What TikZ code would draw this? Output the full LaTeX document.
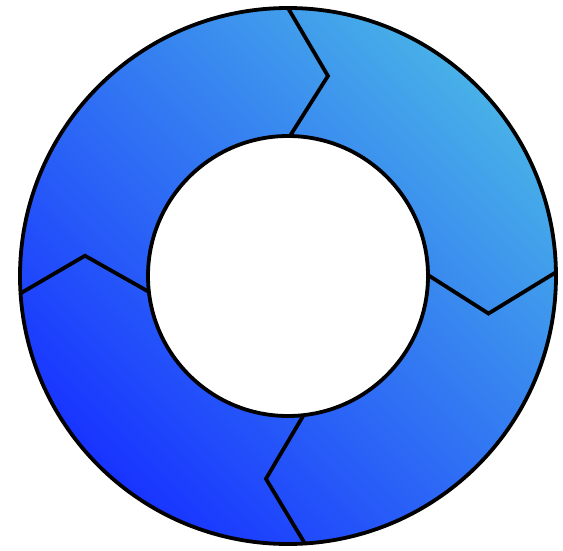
\documentclass[tikz,border=0pt]{standalone}
\usepackage{tikz}
\definecolor{ringlight}{RGB}{72,176,232}
\definecolor{ringdark}{RGB}{24,52,255}
\tikzset{
  ringline/.style={draw=black, line width=3.8pt, line join=miter},
  ringfill/.style={even odd rule, top color=ringlight, bottom color=ringdark,
                   shading angle=-45},
}
\begin{document}
\begin{tikzpicture}[x=1pt, y=1pt]
  \useasboundingbox (-288,-274) rectangle (275,276);
  %% ring body
  \shade[ringfill] (0,0) circle (268) (0,0) circle (140);
  \draw[ringline] (0,0) circle (268);
  \draw[ringline, fill=white] (0,0) circle (140);
  %% chevron dividers (inner angle / tip angle / outer angle)
  \foreach \i/\t/\o in {89.2/78.7/90, 0.4/-10.6/0.8, -83.6/-96.2/-86.4, 186.5/174.3/183.7}
    \draw[ringline] (\i:140) -- (\t:204) -- (\o:268);
\end{tikzpicture}
\end{document}
